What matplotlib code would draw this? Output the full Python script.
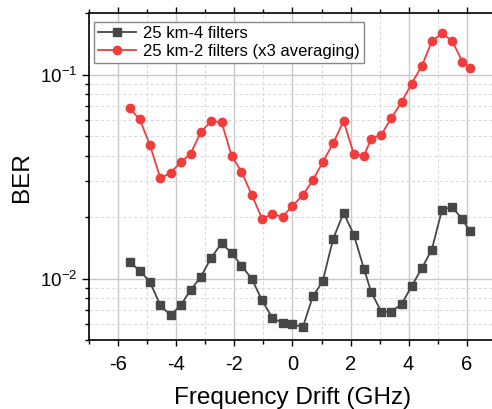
import matplotlib
matplotlib.use("Agg")
import matplotlib.pyplot as plt
from matplotlib.ticker import MultipleLocator, LogLocator, FuncFormatter, NullFormatter
import numpy as np

plt.rcParams['font.family'] = ['Liberation Sans', 'DejaVu Sans']
plt.rcParams['mathtext.default'] = 'regular'

freq = [-5.6, -5.26, -4.91, -4.55, -4.20, -3.85, -3.51, -3.16, -2.80, -2.44,
        -2.10, -1.76, -1.40, -1.05, -0.69, -0.34, 0.0, 0.36, 0.70, 1.04,
        1.40, 1.76, 2.11, 2.46, 2.71, 3.06, 3.40, 3.76, 4.10, 4.46,
        4.80, 5.15, 5.50, 5.85, 6.10]

ber_4filters = [0.01203, 0.01094, 0.00962, 0.00739, 0.00660, 0.00741, 0.00879, 0.01018, 0.01268, 0.01492,
                0.01336, 0.01159, 0.00996, 0.00782, 0.00640, 0.00607, 0.00596, 0.00580, 0.00818, 0.00970,
                0.01566, 0.02102, 0.01645, 0.01120, 0.00859, 0.00688, 0.00688, 0.00750, 0.00916, 0.01127,
                0.01389, 0.02175, 0.02243, 0.01957, 0.01714]

ber_2filters = [0.0683, 0.0603, 0.0451, 0.0310, 0.0331, 0.0372, 0.0410, 0.0522, 0.0594, 0.0583,
                0.0401, 0.0335, 0.0257, 0.0197, 0.0207, 0.0201, 0.02275, 0.0257, 0.0304, 0.0372,
                0.0461, 0.0592, 0.0409, 0.0400, 0.0485, 0.0507, 0.0612, 0.0734, 0.0903, 0.1107,
                0.1458, 0.1596, 0.1465, 0.1159, 0.1079]

labels = ["25 km-4 filters", "25 km-2 filters (x3 averaging)"]

W, H = 492, 409
fig = plt.figure(figsize=(W / 100, H / 100), dpi=100)
left, right, top, bottom = 89.3, 495.7, 13.3, 340.0
ax = fig.add_axes([left / W, 1 - bottom / H, (right - left) / W, (bottom - top) / H])

ax.plot(freq, ber_4filters, color='#474747', marker='s', markersize=5.6, linewidth=1.3,
        label=labels[0], zorder=3)
ax.plot(freq, ber_2filters, color='#f03c3c', marker='o', markersize=6.0, linewidth=1.3,
        label=labels[1], zorder=3)

ax.set_yscale('log')
ax.set_xlim(-7, 7)
ax.set_ylim(0.005, 0.2)

ax.xaxis.set_major_locator(MultipleLocator(2))
ax.xaxis.set_minor_locator(MultipleLocator(1))
ax.yaxis.set_major_locator(LogLocator(base=10))
ax.yaxis.set_minor_locator(LogLocator(base=10, subs=np.arange(2, 10)))
ax.yaxis.set_minor_formatter(NullFormatter())
ax.yaxis.set_major_formatter(FuncFormatter(lambda v, p: r'$10^{%d}$' % round(np.log10(v))))
ax.xaxis.set_major_formatter(FuncFormatter(lambda v, p: '%d' % v))

ax.grid(which='major', color='#c8c8c8', linewidth=1.0, linestyle='-')
ax.grid(which='minor', color='#dcdcdc', linewidth=0.8, linestyle=(0, (3, 2)))
ax.set_axisbelow(True)

ax.tick_params(which='both', direction='out', top=True, right=False, labeltop=False,
               colors='black', width=1.0)
ax.tick_params(axis='x', which='major', labelsize=14.5, length=4.5, pad=6)
ax.tick_params(axis='y', which='major', labelsize=13.5, length=5)
ax.tick_params(which='minor', length=3)

for s in ['left', 'bottom', 'top']:
    ax.spines[s].set_linewidth(1.2)
ax.spines['right'].set_visible(False)

ax.set_xlabel('Frequency Drift (GHz)', fontsize=17.5, labelpad=10)
ax.set_ylabel('BER', fontsize=17.5, labelpad=5)

leg = ax.legend(loc='upper left', bbox_to_anchor=(0.003, 0.985), fontsize=12,
                frameon=True, fancybox=False, edgecolor='#888888', framealpha=1,
                handlelength=2.3, borderpad=0.25, labelspacing=0.2, handletextpad=0.4,
                borderaxespad=0.2)
leg.get_frame().set_linewidth(1.0)

fig.savefig('out.png', dpi=100)
